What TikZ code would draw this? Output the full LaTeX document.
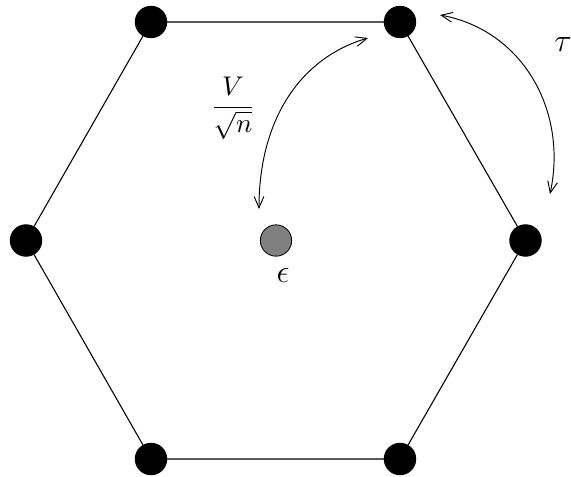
\documentclass[tikz,border=0pt]{standalone}
\usetikzlibrary{arrows.meta}
\begin{document}
\begin{tikzpicture}[x=0.37pt,y=-0.37pt,
  vdot/.style={circle,fill=black,draw=black,inner sep=0pt,minimum size=11.6pt},
  gdot/.style={circle,fill=black!50,draw=black,line width=0.3pt,inner sep=0pt,minimum size=11.6pt},
  hexedge/.style={line width=0.4pt},
  curvearrow/.style={line width=0.35pt,{Straight Barb[length=4.2pt,width=3.6pt]}-{Straight Barb[length=4.2pt,width=3.6pt]}}]
\useasboundingbox (0,0) rectangle (571,477);
\node[vdot] (tl) at (151,22) {};
\node[vdot] (tr) at (400,22) {};
\node[vdot] (r) at (525.5,240.5) {};
\node[vdot] (br) at (400,459) {};
\node[vdot] (bl) at (151,459) {};
\node[vdot] (l) at (26,240.5) {};
\node[gdot] (c) at (276,240.5) {};
\draw[hexedge] (tl) -- (tr) -- (r) -- (br) -- (bl) -- (l) -- (tl);
\coordinate (a1) at (368,38);
\coordinate (a2) at (259,209);
\coordinate (b1) at (440,15);
\coordinate (b2) at (550,194);
\draw[curvearrow] (a2) .. controls (259,120) and (300,58) .. (a1);
\draw[curvearrow] (b1) .. controls (522,30) and (568,110) .. (b2);
\node[inner sep=1pt] (lv) at (233,108) {$\displaystyle\frac{V}{\sqrt{n}}$};
\node (lt) at (563,45) {\large$\tau$};
\node (le) at (283,276) {\large$\epsilon$};
\end{tikzpicture}
\end{document}
